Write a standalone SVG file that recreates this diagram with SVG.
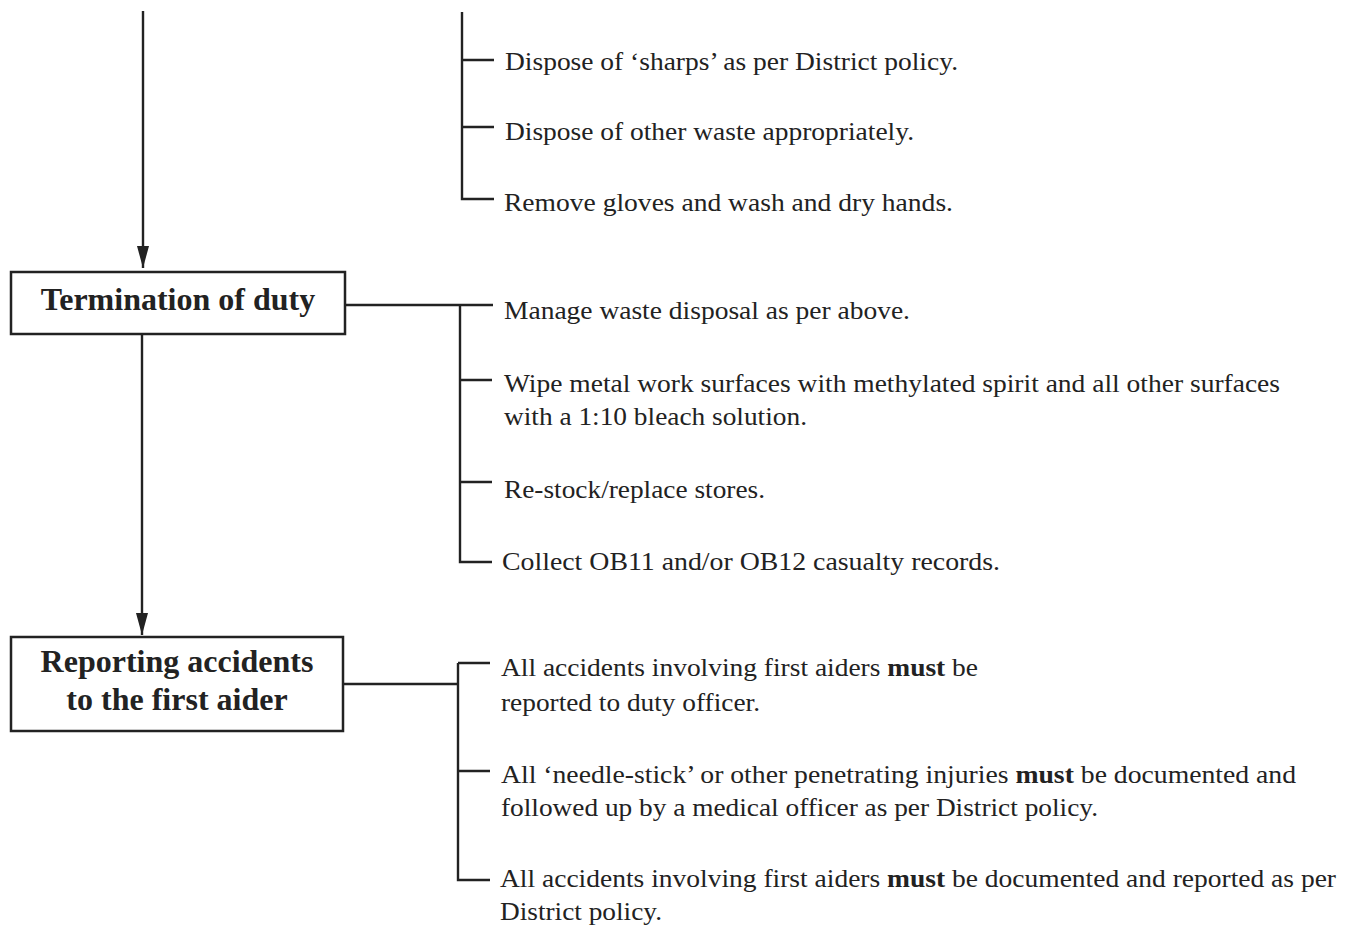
<svg xmlns="http://www.w3.org/2000/svg" width="1349" height="927" viewBox="0 0 1349 927">
<style>
.t{font-family:"Liberation Serif","Times New Roman",serif;font-size:25px;fill:#222}
.b{font-family:"Liberation Serif","Times New Roman",serif;font-size:32px;font-weight:bold;fill:#222;text-anchor:middle}
.ln{stroke:#222;stroke-width:2.4;fill:none}
.box{stroke:#222;stroke-width:2.5;fill:#fff}
</style>
<defs>
<marker id="ah" markerWidth="24" markerHeight="12" refX="22" refY="6" orient="auto" markerUnits="userSpaceOnUse" viewBox="0 0 24 12">
<path d="M0,0 L22,6 L0,12 Z" fill="#222"/>
</marker>
</defs>
<g id="connectors">
<line class="ln" x1="143" y1="11" x2="143" y2="268" marker-end="url(#ah)"/>
<line class="ln" x1="142" y1="334" x2="142" y2="635" marker-end="url(#ah)"/>
<path class="ln" d="M462,12 V199 H494 M462,60 H494 M462,127 H494"/>
<path class="ln" d="M345,305 H493 M460,305 V562 H492 M460,380 H492 M460,482 H492"/>
<path class="ln" d="M343,684 H458 M458,663 H490 M458,663 V880 H490 M458,771 H490"/>
</g>
<g id="node-termination">
<rect class="box" x="11" y="272" width="334" height="62"/>
<text class="b" x="178" y="310">Termination of duty</text>
</g>
<g id="node-reporting">
<rect class="box" x="11" y="637" width="332" height="94"/>
<text class="b" x="177" y="672">Reporting accidents</text>
<text class="b" x="177" y="710">to the first aider</text>
</g>
<g id="items-waste">
<text class="t" x="505" y="70" textLength="453" lengthAdjust="spacingAndGlyphs">Dispose of ‘sharps’ as per District policy.</text>
<text class="t" x="505" y="140" textLength="409" lengthAdjust="spacingAndGlyphs">Dispose of other waste appropriately.</text>
<text class="t" x="504" y="211" textLength="449" lengthAdjust="spacingAndGlyphs">Remove gloves and wash and dry hands.</text>
</g>
<g id="items-termination">
<text class="t" x="504" y="319" textLength="406" lengthAdjust="spacingAndGlyphs">Manage waste disposal as per above.</text>
<text class="t" x="504" y="392" textLength="776" lengthAdjust="spacingAndGlyphs">Wipe metal work surfaces with methylated spirit and all other surfaces</text>
<text class="t" x="504" y="425" textLength="303" lengthAdjust="spacingAndGlyphs">with a 1:10 bleach solution.</text>
<text class="t" x="504" y="498" textLength="261" lengthAdjust="spacingAndGlyphs">Re-stock/replace stores.</text>
<text class="t" x="502" y="570" textLength="498" lengthAdjust="spacingAndGlyphs">Collect OB11 and/or OB12 casualty records.</text>
</g>
<g id="items-reporting">
<text class="t" x="501" y="676" textLength="477" lengthAdjust="spacingAndGlyphs">All accidents involving first aiders <tspan font-weight="bold">must</tspan> be</text>
<text class="t" x="501" y="711" textLength="259" lengthAdjust="spacingAndGlyphs">reported to duty officer.</text>
<text class="t" x="501" y="783" textLength="795" lengthAdjust="spacingAndGlyphs">All ‘needle-stick’ or other penetrating injuries <tspan font-weight="bold">must</tspan> be documented and</text>
<text class="t" x="501" y="816" textLength="597" lengthAdjust="spacingAndGlyphs">followed up by a medical officer as per District policy.</text>
<text class="t" x="500" y="887" textLength="836" lengthAdjust="spacingAndGlyphs">All accidents involving first aiders <tspan font-weight="bold">must</tspan> be documented and reported as per</text>
<text class="t" x="500" y="920" textLength="162" lengthAdjust="spacingAndGlyphs">District policy.</text>
</g>
</svg>
